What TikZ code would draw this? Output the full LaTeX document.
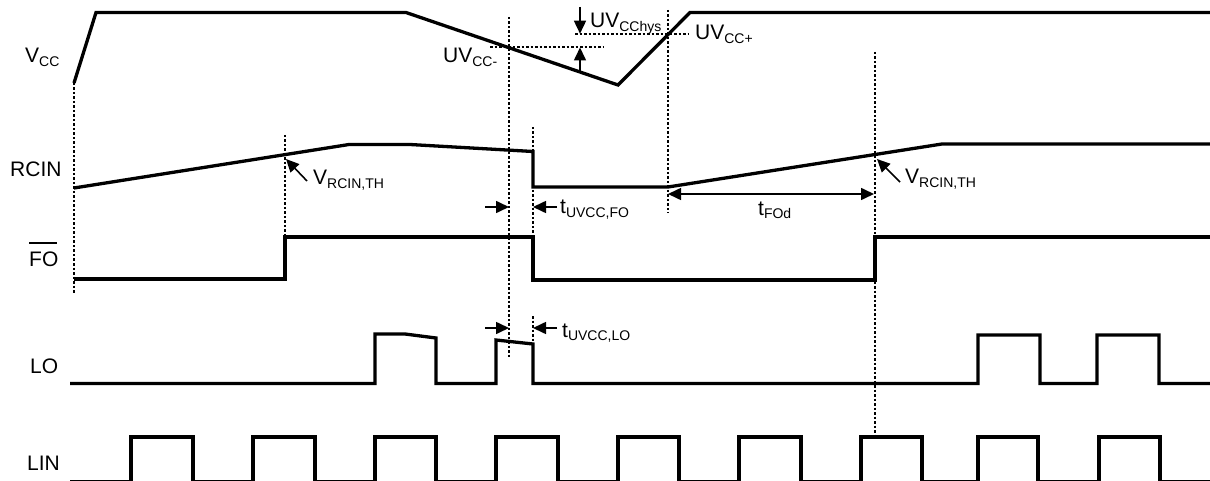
\documentclass[tikz,border=0pt]{standalone}
\usepackage{fontspec}
\setmainfont{Liberation Sans}
\usetikzlibrary{arrows.meta}
\newcommand{\sbs}[1]{\raisebox{-3.5pt}{\fontsize{14}{14}\selectfont #1}}
\tikzset{
  wave/.style={line width=3.3pt, line join=miter, line cap=butt},
  guide/.style={line width=2pt, dash pattern=on 2.5pt off 2pt},
  dim/.style={line width=1.6pt, -{Triangle[length=13pt,width=12pt]}},
  dimboth/.style={line width=1.6pt, {Triangle[length=13pt,width=12pt]}-{Triangle[length=13pt,width=12pt]}},
  lbl/.style={inner sep=0pt, anchor=base west, font=\fontsize{21}{25}\selectfont}
}
\begin{document}
\begin{tikzpicture}[x=1pt,y=-1pt]
\useasboundingbox (0,0) rectangle (1210,481);

% signal names
\node[lbl] (nvcc) at (25,63) {V\sbs{CC}};
\node[lbl] (nrcin) at (10,177) {RCIN};
\node[lbl] (nfo) at (29,266) {\rlap{\rule[22.4pt]{28pt}{1.4pt}}FO};
\node[lbl] (nlo) at (30,373) {LO};
\node[lbl] (nlin) at (27,470) {LIN};

% guide lines (dotted verticals)
\draw[guide] (74,83) -- (74,293);
\draw[guide] (285,135) -- (285,237);
\draw[guide] (509,17) -- (509,357);
\draw[guide] (533,127) -- (533,237);
\draw[guide] (533,316) -- (533,344);
\draw[guide] (668,10) -- (668,213);
\draw[guide] (875,52) -- (875,437);

% threshold dashed horizontals
\draw[guide] (490,47.5) -- (603,47.5);
\draw[guide] (575,33.7) -- (688,33.7);

% VCC
\draw[wave] (74,83) -- (96,12.5) -- (406,12.5) -- (618,85) -- (690,12.5) -- (1212,12.5);
% RCIN
\draw[wave] (74,188) -- (349,144.5) -- (410,144.5) -- (533,151.5) -- (533,187) -- (668,187) -- (942,144) -- (1212,144);
% FO
\draw[wave] (74,279) -- (285,279) -- (285,237) -- (533,237) -- (533,280) -- (875,280) -- (875,237) -- (1212,237);
% LO
\draw[wave] (70,383.5) -- (375,383.5) -- (375,334) -- (405,334) -- (436,338) -- (436,383.5)
  -- (496,383.5) -- (496,340) -- (533,344) -- (533,383.5) -- (978,383.5) -- (978,335) -- (1040,335)
  -- (1040,383.5) -- (1097,383.5) -- (1097,335) -- (1159,335) -- (1159,383.5) -- (1212,383.5);
% LIN
\draw[wave] (70,481.8) -- (131,481.8) -- (131,437) -- (193,437) -- (193,481.8)
  -- (253,481.8) -- (253,437) -- (315,437) -- (315,481.8)
  -- (375,481.8) -- (375,437) -- (436,437) -- (436,481.8)
  -- (496,481.8) -- (496,437) -- (558,437) -- (558,481.8)
  -- (618,481.8) -- (618,437) -- (679,437) -- (679,481.8)
  -- (739,481.8) -- (739,437) -- (801,437) -- (801,481.8)
  -- (861,481.8) -- (861,437) -- (922,437) -- (922,481.8)
  -- (978,481.8) -- (978,437) -- (1038,437) -- (1038,481.8)
  -- (1099,481.8) -- (1099,437) -- (1160,437) -- (1160,481.8) -- (1212,481.8);

% UV labels and arrows
\node[lbl] (uvm) at (443,63) {UV\sbs{CC-}};
\node[lbl] (uvh) at (590,28) {UV\sbs{CChys}};
\node[lbl] (uvp) at (695,40) {UV\sbs{CC+}};
\coordinate (hysA) at (580,7);
\coordinate (hysB) at (580,33.7);
\coordinate (upA) at (580,72);
\coordinate (upB) at (580,47.5);
\draw[dim] (hysA) -- (hysB);
\draw[dim] (upA) -- (upB);

% VRCIN,TH
\node[lbl] (vth1) at (313,185) {V\sbs{RCIN,TH}};
\node[lbl] (vth2) at (905,184) {V\sbs{RCIN,TH}};
\coordinate (a1t) at (307,181);
\coordinate (a1h) at (286,159);
\coordinate (a2t) at (900,182);
\coordinate (a2h) at (877,159);
\draw[dim] (a1t) -- (a1h);
\draw[dim] (a2t) -- (a2h);

% timing dimensions
\coordinate (fo1) at (485,207);
\coordinate (fo2) at (509,207);
\coordinate (fo3) at (557,207);
\coordinate (fo4) at (533,207);
\draw[dim] (fo1) -- (fo2);
\draw[dim] (fo3) -- (fo4);
\node[lbl] (tfo) at (560,214) {t\sbs{UVCC,FO}};

\coordinate (lo1) at (485,328);
\coordinate (lo2) at (509,328);
\coordinate (lo3) at (557,328);
\coordinate (lo4) at (533,328);
\draw[dim] (lo1) -- (lo2);
\draw[dim] (lo3) -- (lo4);
\node[lbl] (tlo) at (562,337) {t\sbs{UVCC,LO}};

\coordinate (fd1) at (668,194);
\coordinate (fd2) at (874,194);
\draw[dimboth] (fd1) -- (fd2);
\node[lbl] (tfd) at (758,215) {t\sbs{FOd}};
\end{tikzpicture}
\end{document}
